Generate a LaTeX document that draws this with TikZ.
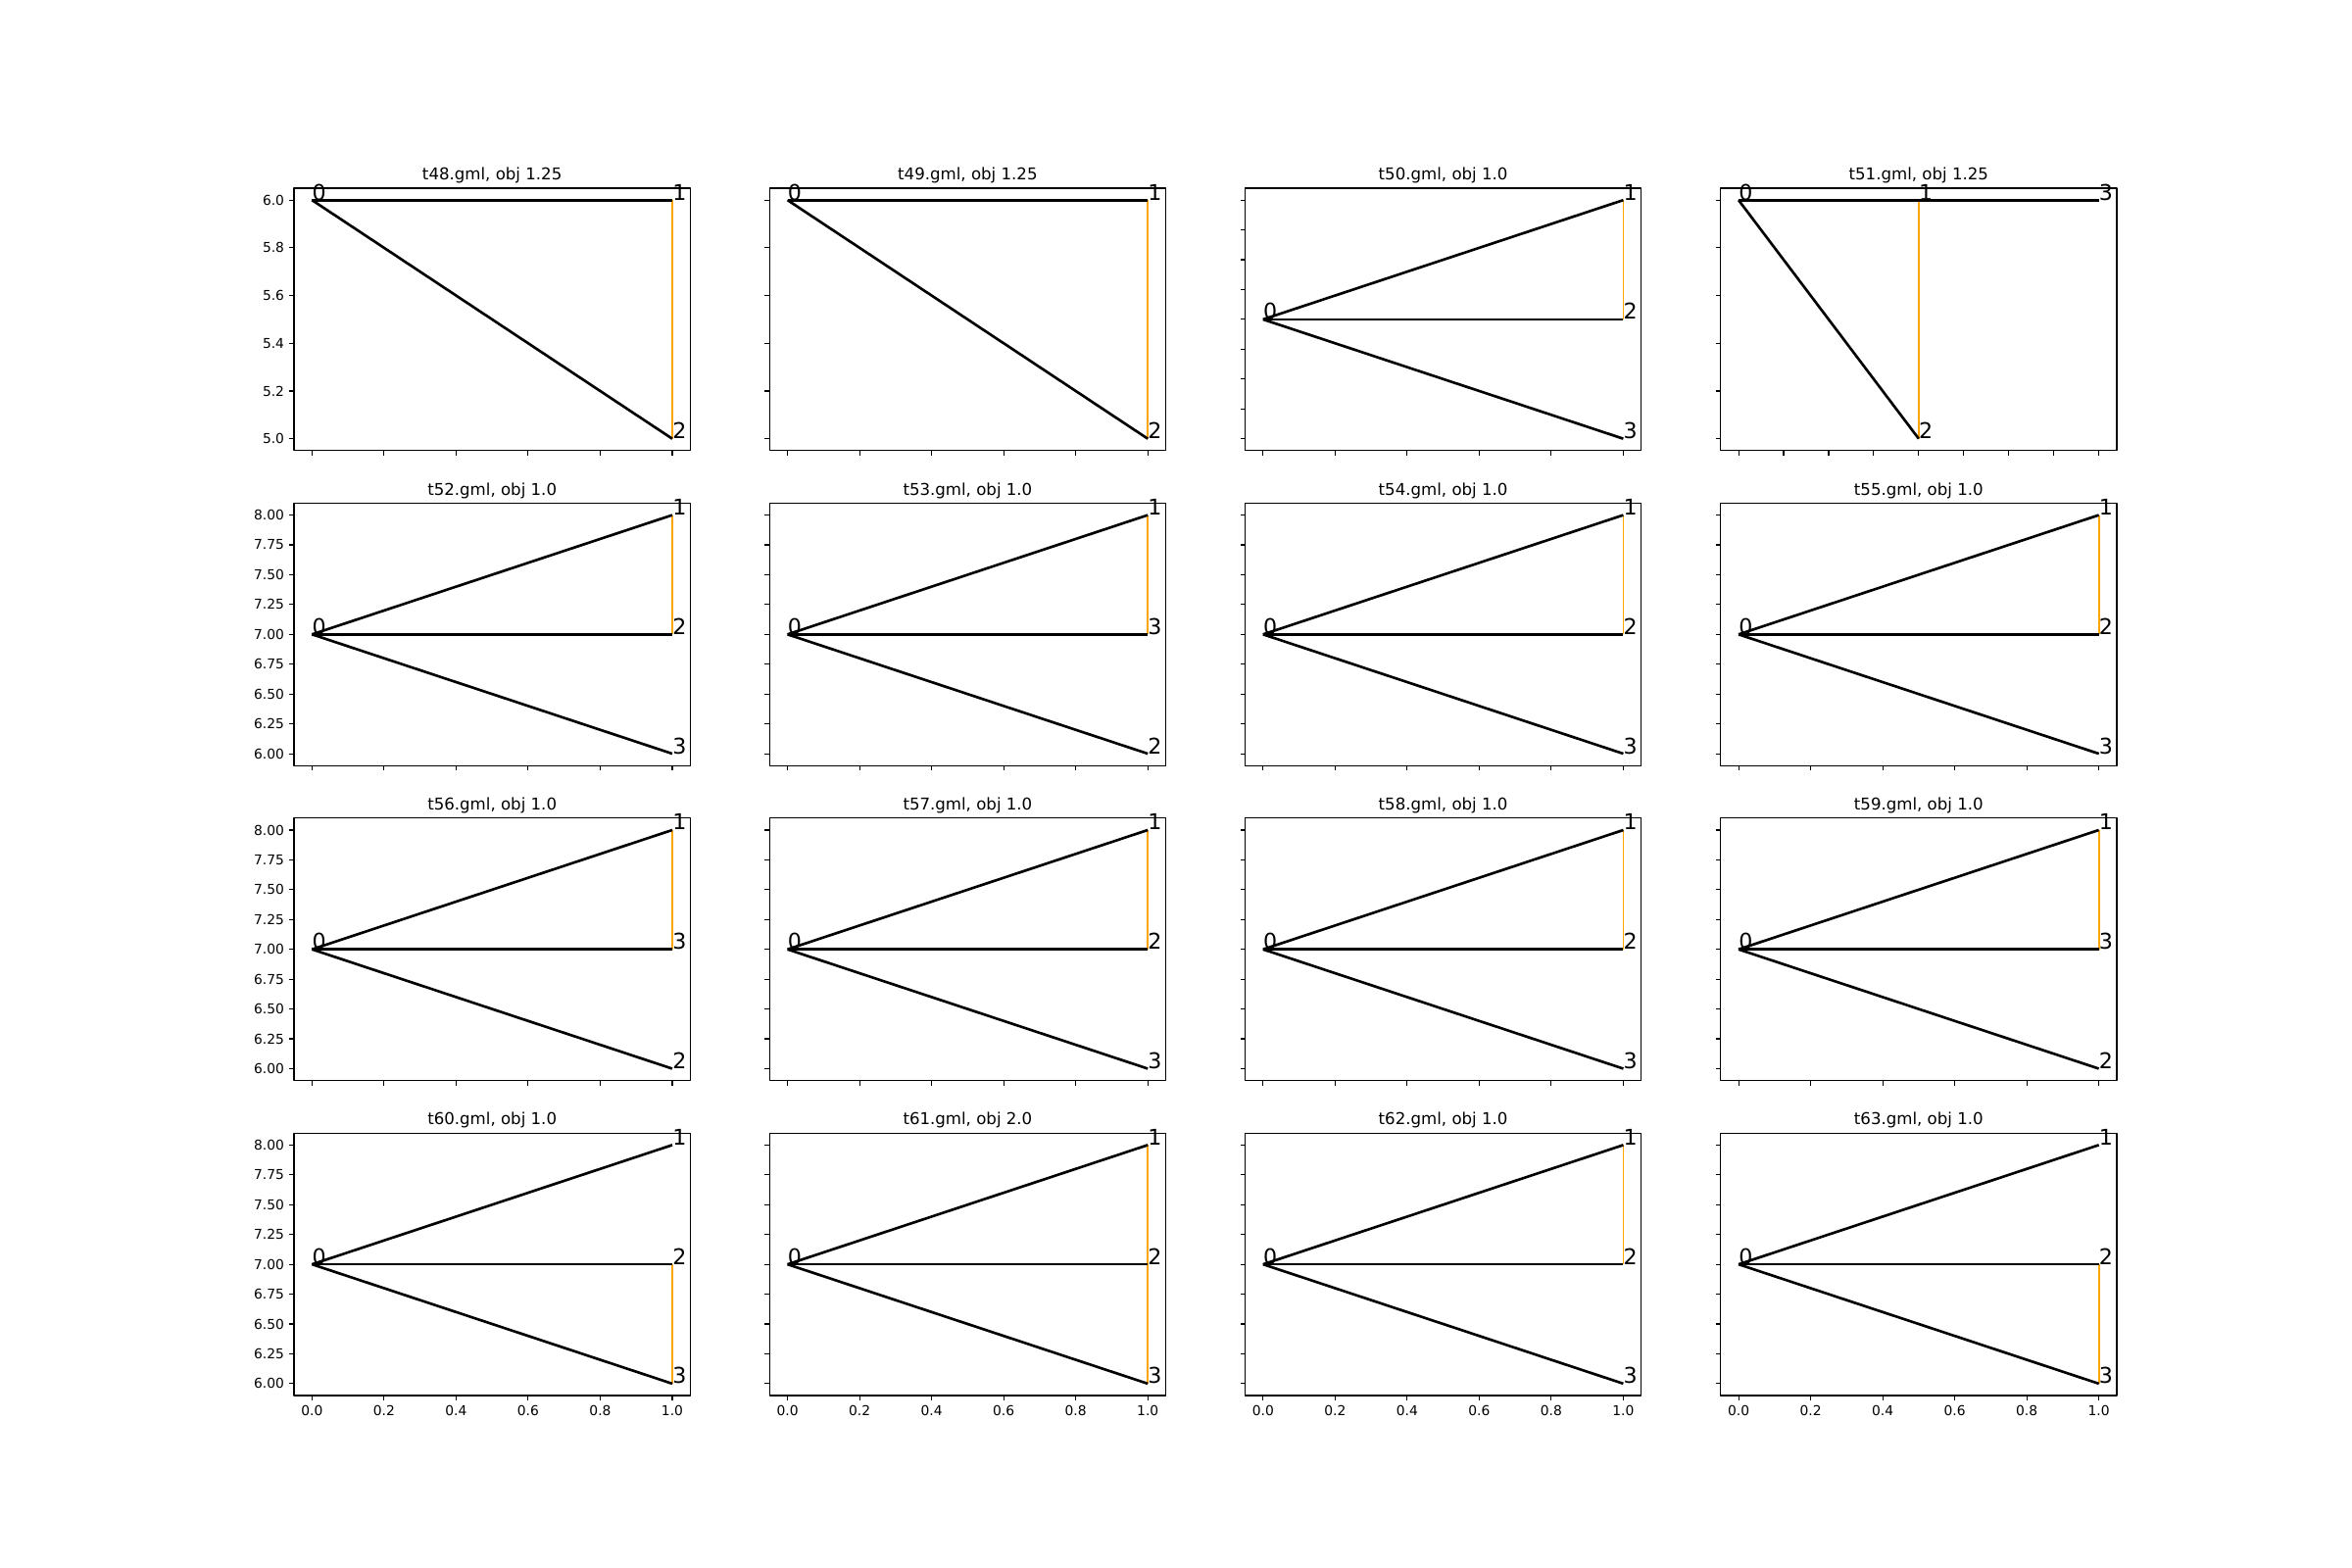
\documentclass[tikz,border=0pt]{standalone}
\usepackage{fontspec}
\setmainfont{DejaVu Sans}
\definecolor{mplorange}{HTML}{FFA500}
\tikzset{
every picture/.style={line join=round},
axes frame/.style={draw=black, line width=0.8bp},
tick mark/.style={draw=black, line width=0.8bp},
tick label/.style={font=\fontsize{10}{12}\selectfont, inner sep=0pt},
panel title/.style={font=\fontsize{12}{14}\selectfont, inner sep=0pt, anchor=base},
vertex label/.style={font=\fontsize{16}{19}\selectfont, inner sep=0pt, anchor=base west},
tree edge/.style={draw=black, line width=1.9bp},
cut edge/.style={draw=mplorange, line width=1.25bp}
}
\def\axW{404.35}
\def\axH{267.83}
\newif\ifxlabels
\newif\ifylabels
% ticks along the bottom spine
\newcommand{\xaxisticks}[3]{%
  \foreach \lab [count=\k from 0] in {#3}{
    \draw[tick mark] ({18.38+\k*#2},\axH) -- ++(0,4.86);
    \ifxlabels\node[tick label,anchor=north] (#1x\k) at ({18.38+\k*#2},{\axH+9.72}) {\lab};\fi
  }}
% ticks along the left spine
\newcommand{\yaxisticks}[3]{%
  \foreach \lab [count=\k from 0] in {#3}{
    \draw[tick mark] (0,{255.66-\k*#2}) -- ++(-4.86,0);
    \ifylabels\node[tick label,anchor=east] (#1y\k) at (-9.72,{255.66-\k*#2}) {\lab};\fi
  }}
\newcommand{\panelstart}[2]{%
  \begin{scope}[shift={({300+#1*485.22},{192+#2*321.40})}]
  \ifnum#1=0 \ylabelstrue\else\ylabelsfalse\fi
  \ifnum#2=3 \xlabelstrue\else\xlabelsfalse\fi
  \draw[axes frame] (0,0) rectangle (\axW,\axH);}
% col, row, file no, obj, top, middle, bottom, cut edges
\newcommand{\fanpanel}[8]{%
  \panelstart{#1}{#2}
  \xaxisticks{t#3}{73.518}{0.0,0.2,0.4,0.6,0.8,1.0}
  \yaxisticks{t#3}{30.435}{6.00,6.25,6.50,6.75,7.00,7.25,7.50,7.75,8.00}
  \node[panel title] (t#3title) at ({\axW/2},-8.33) {t#3.gml, obj #4};
  \coordinate (t#3n0) at (18.38,133.92);
  \coordinate (t#3n#5) at (385.97,12.18);
  \coordinate (t#3n#6) at (385.97,133.92);
  \coordinate (t#3n#7) at (385.97,255.66);
  \foreach \a/\b in {#8} \draw[cut edge] (t#3n\a) -- (t#3n\b);
  \foreach \v in {#5,#6,#7} \draw[tree edge] (t#3n0) -- (t#3n\v);
  \foreach \v in {0,#5,#6,#7} \node[vertex label] (t#3l\v) at (t#3n\v) {\v};
  \end{scope}}
% col, file no
\newcommand{\tripanel}[2]{%
  \panelstart{#1}{0}
  \xaxisticks{t#2}{73.518}{0.0,0.2,0.4,0.6,0.8,1.0}
  \yaxisticks{t#2}{48.696}{5.0,5.2,5.4,5.6,5.8,6.0}
  \node[panel title] (t#2title) at ({\axW/2},-8.33) {t#2.gml, obj 1.25};
  \coordinate (t#2n0) at (18.38,12.18);
  \coordinate (t#2n1) at (385.97,12.18);
  \coordinate (t#2n2) at (385.97,255.66);
  \draw[cut edge] (t#2n1) -- (t#2n2);
  \draw[tree edge] (t#2n0) -- (t#2n1);
  \draw[tree edge] (t#2n0) -- (t#2n2);
  \foreach \v in {0,1,2} \node[vertex label] (t#2l\v) at (t#2n\v) {\v};
  \end{scope}}
\begin{document}
\begin{tikzpicture}[x=0.72bp, y=-0.72bp]
\fill[white] (0,0) rectangle (2400,1600);
% row 0
\tripanel{0}{48}
\tripanel{1}{49}
\fanpanel{2}{0}{50}{1.0}{1}{2}{3}{1/2}
\panelstart{3}{0}
  \xaxisticks{t51}{45.949}{0.00,0.25,0.50,0.75,1.00,1.25,1.50,1.75,2.00}
  \yaxisticks{t51}{48.696}{5.0,5.2,5.4,5.6,5.8,6.0}
  \node[panel title] (t51title) at ({\axW/2},-8.33) {t51.gml, obj 1.25};
  \coordinate (t51n0) at (18.38,12.18);
  \coordinate (t51n1) at (202.18,12.18);
  \coordinate (t51n3) at (385.97,12.18);
  \coordinate (t51n2) at (202.18,255.66);
  \draw[cut edge] (t51n1) -- (t51n2);
  \draw[tree edge] (t51n0) -- (t51n1);
  \draw[tree edge] (t51n1) -- (t51n3);
  \draw[tree edge] (t51n0) -- (t51n2);
  \foreach \v in {0,1,2,3} \node[vertex label] (t51l\v) at (t51n\v) {\v};
\end{scope}
% row 1
\fanpanel{0}{1}{52}{1.0}{1}{2}{3}{1/2}
\fanpanel{1}{1}{53}{1.0}{1}{3}{2}{1/3}
\fanpanel{2}{1}{54}{1.0}{1}{2}{3}{1/2}
\fanpanel{3}{1}{55}{1.0}{1}{2}{3}{1/2}
% row 2
\fanpanel{0}{2}{56}{1.0}{1}{3}{2}{1/3}
\fanpanel{1}{2}{57}{1.0}{1}{2}{3}{1/2}
\fanpanel{2}{2}{58}{1.0}{1}{2}{3}{1/2}
\fanpanel{3}{2}{59}{1.0}{1}{3}{2}{1/3}
% row 3
\fanpanel{0}{3}{60}{1.0}{1}{2}{3}{2/3}
\fanpanel{1}{3}{61}{2.0}{1}{2}{3}{1/2,2/3}
\fanpanel{2}{3}{62}{1.0}{1}{2}{3}{1/2}
\fanpanel{3}{3}{63}{1.0}{1}{2}{3}{2/3}
\end{tikzpicture}
\end{document}
